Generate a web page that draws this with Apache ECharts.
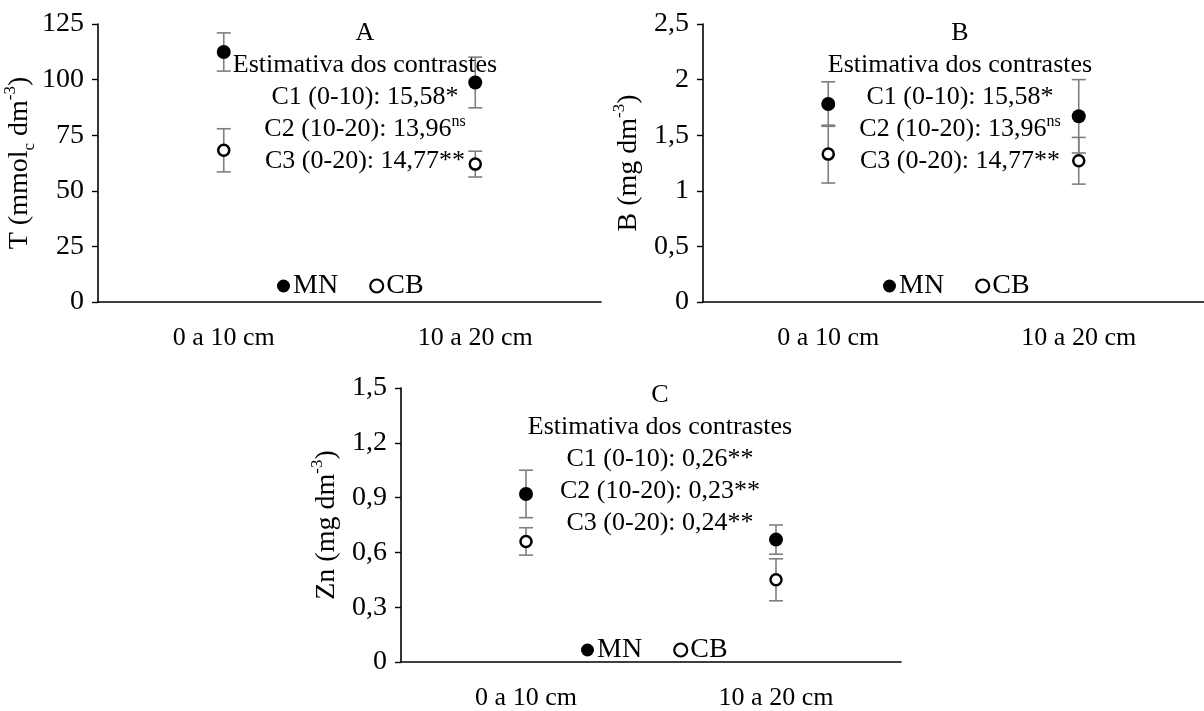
<!DOCTYPE html>
<html>
<head>
<meta charset="utf-8">
<script src="https://cdn.jsdelivr.net/npm/echarts@6/dist/echarts.min.js"></script>
<style>
html,body{margin:0;padding:0;background:#fff;}
#main{width:1204px;height:711px;}
</style>
</head>
<body>
<div id="main"></div>
<script>
// ---------- data ----------
const categories = ['0 a 10 cm', '10 a 20 cm'];
const seriesNames = ['MN', 'CB'];

// Panel A: T (mmolc dm-3)
const mnA = [112.4, 98.7];
const mnAErr = [8.6, 11.4];
const cbA = [68.2, 62.0];
const cbAErr = [9.7, 5.8];

// Panel B: B (mg dm-3)
const mnB = [1.78, 1.67];
const mnBErr = [0.20, 0.33];
const cbB = [1.33, 1.27];
const cbBErr = [0.26, 0.21];

// Panel C: Zn (mg dm-3)
const mnC = [0.92, 0.67];
const mnCErr = [0.13, 0.08];
const cbC = [0.66, 0.45];
const cbCErr = [0.075, 0.115];

const yMax = [125, 2.5, 1.5];
const yInterval = [25, 0.5, 0.3];

const panelLetters = ['A', 'B', 'C'];
const contrastTitle = 'Estimativa dos contrastes';
const contrastsA = [['C1 (0-10): 15,58*', ''], ['C2 (10-20): 13,96', 'ns'], ['C3 (0-20): 14,77**', '']];
const contrastsB = [['C1 (0-10): 15,58*', ''], ['C2 (10-20): 13,96', 'ns'], ['C3 (0-20): 14,77**', '']];
const contrastsC = [['C1 (0-10): 0,26**', ''], ['C2 (10-20): 0,23**', ''], ['C3 (0-20): 0,24**', '']];

// ---------- styling / layout ----------
const FONT = "'Liberation Serif', 'Times New Roman', serif";
const FS = 26;
const TFS = 28;
const grids = [
  {left: 98, top: 24, width: 503, height: 278},
  {left: 703, top: 24, width: 504, height: 278},
  {left: 401, top: 388, width: 500, height: 278}
];
const textCenters = [
  {x: 365, y: 33},
  {x: 960, y: 33},
  {x: 660, y: 395}
];
const legendPos = [
  {left: 272, top: 267},
  {left: 878, top: 267},
  {left: 576, top: 631}
];
const axisNames = [
  '{n|T (mmol}{sub|c}{n| dm}{sup|-3}{n|)}',
  '{n|B (mg dm}{sup|-3}{n|)}',
  '{n|Zn (mg dm}{sup|-3}{n|)}'
];

function fmt(v) {
  return String(Number(v.toFixed(2))).replace('.', ',');
}

const panels = [
  {mn: mnA, mnE: mnAErr, cb: cbA, cbE: cbAErr, contrasts: contrastsA},
  {mn: mnB, mnE: mnBErr, cb: cbB, cbE: cbBErr, contrasts: contrastsB},
  {mn: mnC, mnE: mnCErr, cb: cbC, cbE: cbCErr, contrasts: contrastsC}
];

function errRender(params, api) {
  const lo = api.coord([api.value(0), api.value(1)]);
  const hi = api.coord([api.value(0), api.value(2)]);
  const w = 7;
  const st = {stroke: '#7f7f7f', lineWidth: 1.6};
  return {
    type: 'group',
    children: [
      {type: 'line', shape: {x1: lo[0], y1: lo[1], x2: hi[0], y2: hi[1]}, style: st},
      {type: 'line', shape: {x1: lo[0] - w, y1: lo[1], x2: lo[0] + w, y2: lo[1]}, style: st},
      {type: 'line', shape: {x1: hi[0] - w, y1: hi[1], x2: hi[0] + w, y2: hi[1]}, style: st}
    ]
  };
}

const xAxis = [], yAxis = [], series = [], legend = [], graphic = [];
const richName = {
  n: {fontSize: TFS, fontFamily: FONT, color: '#000', lineHeight: 36},
  sub: {fontSize: 17, fontFamily: FONT, color: '#000', verticalAlign: 'bottom', lineHeight: 36},
  sup: {fontSize: 17, fontFamily: FONT, color: '#000', verticalAlign: 'top', lineHeight: 36}
};

panels.forEach((p, i) => {
  xAxis.push({
    type: 'category', gridIndex: i, data: categories, boundaryGap: true,
    axisLine: {lineStyle: {color: '#000', width: 1.6}},
    axisTick: {show: false},
    axisLabel: {color: '#000', fontSize: FS, fontFamily: FONT, margin: 23},
    splitLine: {show: false}
  });
  yAxis.push({
    type: 'value', gridIndex: i, min: 0, max: yMax[i], interval: yInterval[i],
    axisLine: {show: true, lineStyle: {color: '#000', width: 1.6}},
    axisTick: {show: true, length: 6, lineStyle: {color: '#000', width: 1.4}},
    axisLabel: {color: '#000', fontSize: TFS, fontFamily: FONT, margin: 14, formatter: fmt},
    splitLine: {show: false},
    name: axisNames[i], nameLocation: 'middle', nameRotate: 90, nameGap: 56,
    nameTextStyle: {rich: richName, fontSize: TFS, fontFamily: FONT, color: '#000'}
  });
  series.push({
    type: 'custom', xAxisIndex: i, yAxisIndex: i, renderItem: errRender, z: 1, silent: true,
    data: categories.map((c, k) => [k, p.mn[k] - p.mnE[k], p.mn[k] + p.mnE[k]]),
    encode: {x: 0, y: [1, 2]}
  });
  series.push({
    type: 'custom', xAxisIndex: i, yAxisIndex: i, renderItem: errRender, z: 1, silent: true,
    data: categories.map((c, k) => [k, p.cb[k] - p.cbE[k], p.cb[k] + p.cbE[k]]),
    encode: {x: 0, y: [1, 2]}
  });
  series.push({
    name: seriesNames[0], type: 'scatter', xAxisIndex: i, yAxisIndex: i, z: 5,
    symbol: 'circle', symbolSize: 14,
    itemStyle: {color: '#000', opacity: 1},
    data: categories.map((c, k) => [k, p.mn[k]])
  });
  series.push({
    name: seriesNames[1], type: 'scatter', xAxisIndex: i, yAxisIndex: i, z: 5,
    symbol: 'circle', symbolSize: 11,
    itemStyle: {color: '#fff', borderColor: '#000', borderWidth: 2.5, opacity: 1},
    data: categories.map((c, k) => [k, p.cb[k]])
  });
  legend.push({
    left: legendPos[i].left, top: legendPos[i].top,
    orient: 'horizontal', itemWidth: 13, itemHeight: 13, itemGap: 31,
    selectedMode: false,
    textStyle: {fontSize: TFS, fontFamily: FONT, color: '#000', padding: [0, 0, 0, -2]},
    data: [
      {name: seriesNames[0], icon: 'circle', itemStyle: {color: '#000'}},
      {name: seriesNames[1], icon: 'circle', itemStyle: {color: '#fff', borderColor: '#000', borderWidth: 2.2}}
    ]
  });
  const tc = textCenters[i];
  const lines = [[panelLetters[i], ''], [contrastTitle, '']].concat(p.contrasts);
  lines.forEach((ln, k) => {
    const txt = ln[1] ? '{n|' + ln[0] + '}{s|' + ln[1] + '}' : '{n|' + ln[0] + '}';
    graphic.push({
      type: 'text', x: tc.x, y: tc.y + k * 32, z: 10,
      style: {
        text: txt, align: 'center', verticalAlign: 'middle',
        fontSize: FS, fontFamily: FONT, fill: '#000',
        rich: {
          n: {fontSize: FS, fontFamily: FONT, color: '#000', lineHeight: 30},
          s: {fontSize: 16, fontFamily: FONT, color: '#000', verticalAlign: 'top', lineHeight: 30}
        }
      }
    });
  });
});

const chart = echarts.init(document.getElementById('main'), null, {renderer: 'canvas'});
chart.setOption({
  backgroundColor: '#fff',
  animation: false,
  grid: grids.map(g => Object.assign({containLabel: false}, g)),
  xAxis: xAxis,
  yAxis: yAxis,
  legend: legend,
  series: series,
  graphic: graphic
});
</script>
</body>
</html>
